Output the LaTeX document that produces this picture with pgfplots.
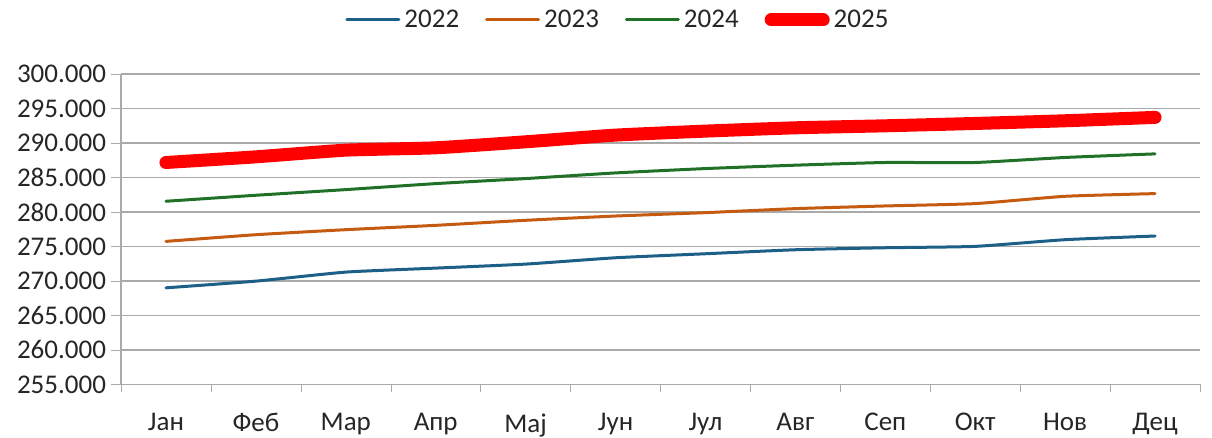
\documentclass[border=0pt]{standalone}
\usepackage{fontspec}
\setmainfont{Carlito}
\usepackage{pgfplots}
\pgfplotsset{compat=1.18}
\definecolor{c22}{RGB}{28,96,135}
\definecolor{c23}{RGB}{197,90,17}
\definecolor{c24}{RGB}{32,112,40}
\definecolor{c25}{RGB}{255,0,0}
\definecolor{gridc}{RGB}{170,170,170}
\definecolor{txt}{RGB}{38,38,38}

\begin{document}
\begin{tikzpicture}[font=\fontsize{13.5}{15}\selectfont]
\begin{axis}[
  scale only axis,
  width=539.5pt, height=155.2pt,
  xmin=0.5, xmax=12.5,
  ymin=255000, ymax=300000,
  ytick={255000,260000,...,300000},
  scaled y ticks=false,
  yticklabel style={xshift=1pt, /pgf/number format/.cd, fixed, precision=0, 1000 sep={.}, assume math mode=true},
  xtick={1,...,12},
  xticklabels={Јан,Феб,Мар,Апр,Мај,Јун,Јул,Авг,Сеп,Окт,Нов,Дец},
  minor xtick={0.5,1.5,...,12.5},
  major x tick style={draw=none},
  minor x tick style={draw=gridc},
  y tick style={draw=gridc},
  tick align=outside,
  major tick length=5pt,
  minor tick length=4pt,
  ymajorgrids=true,
  grid style={draw=gridc, line width=0.6pt},
  axis lines*=left,
  axis line style={draw=gridc, line width=0.6pt},
  ticklabel style={text=txt, font=\fontsize{13.5}{15}\selectfont},
  xticklabel style={yshift=-6pt},
  legend style={at={(0.4615,1.174)}, anchor=center, draw=none, fill=none,
    font=\fontsize{13.5}{15}\selectfont, text=txt,
    /tikz/every even column/.append style={column sep=11pt}},
  legend columns=4,
  legend image code/.code={\draw[#1,line cap=round] (0pt,0pt) -- (26pt,0pt);},
  clip=false,
]
\coordinate (sw) at (rel axis cs:0,0);
\coordinate (ne) at (rel axis cs:1,1);
\addplot[c22, line width=1.5pt, line cap=round, smooth, tension=0.3] coordinates {
(1,269000) (2,269970) (3,271280) (4,271860) (5,272440) (6,273360)
(7,273940) (8,274520) (9,274810) (10,275010) (11,275980) (12,276510)};
\addplot[c23, line width=1.5pt, line cap=round, smooth, tension=0.3] coordinates {
(1,275735) (2,276700) (3,277430) (4,278060) (5,278790) (6,279410)
(7,279900) (8,280480) (9,280870) (10,281210) (11,282270) (12,282660)};
\addplot[c24, line width=1.5pt, line cap=round, smooth, tension=0.3] coordinates {
(1,281550) (2,282420) (3,283240) (4,284110) (5,284840) (6,285660)
(7,286290) (8,286780) (9,287170) (10,287170) (11,287900) (12,288420)};
\addplot[c25, line width=6.5pt, line cap=round, smooth, tension=0.3] coordinates {
(1,287170) (2,287990) (3,288960) (4,289300) (5,290170) (6,291140)
(7,291720) (8,292200) (9,292490) (10,292830) (11,293220) (12,293710)};
\legend{2022,2023,2024,2025}
\end{axis}
\pgfresetboundingbox
\path[use as bounding box] ([shift={(-60.5pt,-26.35pt)}]sw) rectangle ([shift={(6pt,37pt)}]ne);
\end{tikzpicture}
\end{document}
